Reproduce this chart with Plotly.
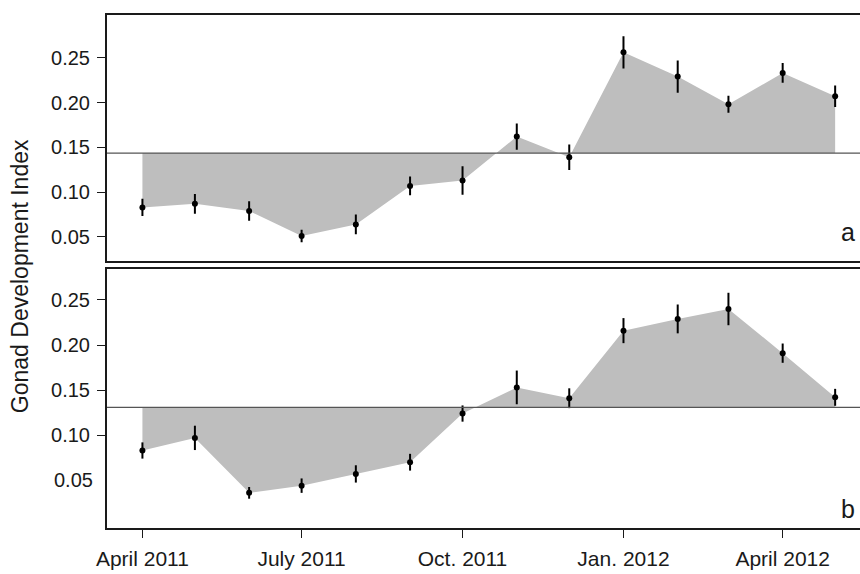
import plotly.graph_objects as go

# ---- data ----
months = ["2011-04-01", "2011-05-01", "2011-06-01", "2011-07-01", "2011-08-01",
          "2011-09-01", "2011-10-01", "2011-11-01", "2011-12-01", "2012-01-01",
          "2012-02-01", "2012-03-01", "2012-04-01", "2012-05-01"]

gdi_a = [0.083, 0.087, 0.079, 0.051, 0.064, 0.107, 0.113, 0.162, 0.139, 0.256,
         0.229, 0.198, 0.233, 0.207]
err_a = [0.0097, 0.011, 0.011, 0.007, 0.011, 0.0104, 0.0158, 0.0147, 0.0143, 0.018,
         0.018, 0.0095, 0.011, 0.012]
ref_a = 0.1436

gdi_b = [0.083, 0.097, 0.036, 0.044, 0.057, 0.070, 0.124, 0.153, 0.141, 0.216,
         0.229, 0.240, 0.191, 0.142]
err_b = [0.009, 0.0135, 0.0065, 0.008, 0.0096, 0.0093, 0.009, 0.0187, 0.011, 0.0139,
         0.016, 0.018, 0.0107, 0.0094]
ref_b = 0.1308

xtick_vals = ["2011-04-01", "2011-07-01", "2011-10-01", "2012-01-01", "2012-04-01"]
xtick_text = ["April 2011", "July 2011", "Oct. 2011", "Jan. 2012", "April 2012"]
ytick_vals_a = [0.05, 0.10, 0.15, 0.20, 0.25]
ytick_vals_b = [0.10, 0.15, 0.20, 0.25]

FILL = "#bebebe"
FONT = "Liberation Sans, Arial, sans-serif"
INK = "#1a1a1a"

fig = go.Figure()

def add_panel(fig, vals, errs, ref, xa, ya):
    # baseline for fill
    fig.add_trace(go.Scatter(x=months, y=[ref] * len(months), mode="lines",
                             line=dict(width=0, color=FILL), xaxis=xa, yaxis=ya,
                             hoverinfo="skip", showlegend=False))
    fig.add_trace(go.Scatter(x=months, y=vals, mode="lines", fill="tonexty",
                             fillcolor=FILL, line=dict(width=0, color=FILL),
                             xaxis=xa, yaxis=ya, hoverinfo="skip", showlegend=False))
    fig.add_trace(go.Scatter(x=months, y=vals, mode="markers",
                             marker=dict(color="black", size=6),
                             error_y=dict(type="data", array=errs, visible=True,
                                          color="black", thickness=2, width=0),
                             xaxis=xa, yaxis=ya, showlegend=False))
    fig.add_shape(type="line", xref=xa + " domain", yref=ya, x0=0, x1=1, y0=ref, y1=ref,
                  line=dict(color="#555555", width=1.2))

add_panel(fig, gdi_a, err_a, ref_a, "x", "y")
add_panel(fig, gdi_b, err_b, ref_b, "x2", "y2")

xrange = ["2011-03-11 18:00", "2012-05-15 05:00"]
axis_common = dict(showgrid=False, zeroline=False, showline=True, linecolor=INK,
                   linewidth=2, automargin=False)

fig.update_layout(
    template="none",
    width=860, height=574,
    margin=dict(l=107, r=0, t=15, b=46),
    paper_bgcolor="white", plot_bgcolor="white",
    font=dict(family=FONT, color=INK),
    xaxis=dict(domain=[0, 1], anchor="y", range=xrange, type="date",
               showticklabels=False, ticks="", mirror=True, **axis_common),
    yaxis=dict(domain=[0.521, 1], anchor="x", range=[0.0235, 0.2977],
               tickvals=ytick_vals_a, ticktext=[f"{v:.2f}" for v in ytick_vals_a],
               ticks="outside", ticklen=8, tickcolor=INK, tickwidth=1,
               tickfont=dict(size=20, family=FONT, color=INK), ticklabelstandoff=3,
               **axis_common),
    xaxis2=dict(domain=[0, 1], anchor="y2", range=xrange, type="date",
                tickvals=xtick_vals, ticktext=xtick_text, ticks="outside", ticklen=8,
                tickcolor=INK, tickwidth=1, mirror=True,
                tickfont=dict(size=21, family=FONT, color=INK), ticklabelstandoff=3,
                **axis_common),
    yaxis2=dict(domain=[0, 0.5049], anchor="x2", range=[-0.003, 0.2844],
                tickvals=ytick_vals_b, ticktext=[f"{v:.2f}" for v in ytick_vals_b],
                ticks="outside", ticklen=8, tickcolor=INK, tickwidth=1,
                tickfont=dict(size=20, family=FONT, color=INK), ticklabelstandoff=3,
                **axis_common),
)

fig.add_annotation(text="Gonad Development Index", textangle=-90, xref="paper", yref="paper",
                   x=-0.1155, y=0.491, xanchor="center", yanchor="middle", showarrow=False,
                   font=dict(size=23, family=FONT, color=INK))
fig.add_annotation(text="a", xref="paper", yref="paper", x=0.984, y=0.577,
                   xanchor="center", yanchor="middle", showarrow=False,
                   font=dict(size=25, family=FONT, color=INK))
fig.add_annotation(text="b", xref="paper", yref="paper", x=0.984, y=0.0378,
                   xanchor="center", yanchor="middle", showarrow=False,
                   font=dict(size=25, family=FONT, color=INK))
fig.add_annotation(text="0.05", xref="paper", yref="y2", x=-0.0159, y=0.05,
                   xanchor="right", yanchor="middle", showarrow=False,
                   font=dict(size=20, family=FONT, color=INK))

fig.write_html("out.html", config={"displayModeBar": False},
               post_script="document.body.style.margin='0';document.body.style.overflow='hidden';")
